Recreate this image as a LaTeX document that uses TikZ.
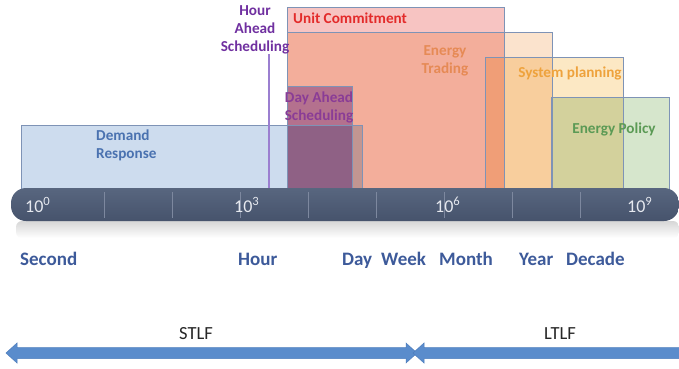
\documentclass[tikz,border=0pt]{standalone}
\usepackage{fontspec}
\setmainfont{Carlito}
\usetikzlibrary{calc}
\definecolor{drfill}{HTML}{CDDCEE}
\definecolor{ucfill}{HTML}{F7C4C2}
\definecolor{etfill}{HTML}{FBE3CD}
\definecolor{dafill}{HTML}{BDA6EB}
\definecolor{spfill}{HTML}{FCE8C4}
\definecolor{epfill}{HTML}{D6E6CC}
\definecolor{boxline}{HTML}{7E93B6}
\definecolor{hourcol}{HTML}{7030A0}
\definecolor{hourline}{HTML}{9B7FD0}
\definecolor{uccol}{HTML}{E32B2B}
\definecolor{etcol}{HTML}{E68A55}
\definecolor{dacol}{HTML}{8A3C96}
\definecolor{spcol}{HTML}{EEA23C}
\definecolor{epcol}{HTML}{5B9A55}
\definecolor{drcol}{HTML}{4A72B0}
\definecolor{unitcol}{HTML}{3D5A9A}
\definecolor{bartop}{HTML}{58667F}
\definecolor{barbot}{HTML}{46536C}
\definecolor{tickcol}{HTML}{7D889F}
\definecolor{axlcol}{HTML}{E6E9EF}
\definecolor{arrcol}{HTML}{5A8CCC}
\definecolor{arrline}{HTML}{4D7DBD}
\begin{document}
\begin{tikzpicture}[x=1pt,y=-1pt,
  boxfill/.style={fill=#1},
  boxedge/.style={draw=boxline,line width=0.9pt},
  toplab/.style={inner sep=0pt,font=\fontsize{15.2}{18}\selectfont\bfseries,align=center},
  unitlab/.style={inner sep=0pt,anchor=base west,text=unitcol,font=\fontsize{19}{22}\selectfont\bfseries},
  axl/.style={inner sep=0pt,anchor=base west,text=axlcol,font=\fontsize{18}{21}\selectfont},
  fclab/.style={inner sep=0pt,font=\fontsize{18.5}{22}\selectfont,text=black!85},
  blockarrow/.style={fill=arrcol,draw=arrline,line width=0.5pt,line join=miter}
]
\clip (0,0) rectangle (679,368);
\fill[white] (0,0) rectangle (679,368);

% coloured boxes, multiplied where they overlap
\begin{scope}[blend group=multiply]
  \fill[boxfill=drfill] (21,125) rectangle (362,189);
  \fill[boxfill=ucfill] (287,7.5) rectangle (504,189);
  \fill[boxfill=etfill] (287,32) rectangle (552,189);
  \fill[boxfill=dafill] (287,86) rectangle (352,189);
  \fill[boxfill=spfill] (485,57) rectangle (623,189);
  \fill[boxfill=epfill] (551,97) rectangle (669,189);
\end{scope}
\draw[boxedge] (21,125) rectangle (362,189);
\draw[boxedge] (287,7.5) rectangle (504,189);
\draw[boxedge] (287,32) rectangle (552,189);
\draw[boxedge] (287,86) rectangle (352,189);
\draw[boxedge] (485,57) rectangle (623,189);
\draw[boxedge] (551,97) rectangle (669,189);

% hour ahead line
\coordinate (hlTop) at (269,54);
\coordinate (hlBot) at (269,188);
\draw[hourline,line width=1.2pt] (hlTop) -- (hlBot);

% box labels
\node[toplab,text=hourcol] (hour) at (255,29.5) {Hour\\Ahead\\Scheduling};
\node[toplab,text=uccol,anchor=west] (uc) at (293,18.5) {Unit Commitment};
\node[toplab,text=etcol] (et) at (445,60.6) {Energy\\Trading};
\node[toplab,text=dacol] (da) at (319,107.5) {Day Ahead\\Scheduling};
\node[toplab,text=spcol] (sp) at (570,73.6) {System planning};
\node[toplab,text=epcol] (ep) at (614,129.6) {Energy Policy};
\node[toplab,text=drcol,align=left,anchor=west] (dr) at (96,145) {Demand\\Response};

% reflection under the bar
\shade[top color=black!16,bottom color=white,rounded corners=6pt] (16,221) rectangle (679,238);
% time axis bar
\shade[top color=bartop,bottom color=barbot,rounded corners=15pt] (11,188) rectangle (679,221);
\foreach \i in {0,...,7}{
  \draw[tickcol,line width=0.8pt] (104+68*\i,192) -- (104+68*\i,218);
}
\node[axl] (e0) at (25,212) {10\textsuperscript{0}};
\node[axl] (e3) at (234,212) {10\textsuperscript{3}};
\node[axl] (e6) at (435,212) {10\textsuperscript{6}};
\node[axl] (e9) at (627,212) {10\textsuperscript{9}};

% time unit labels
\node[unitlab] (second) at (20,265) {Second};
\node[unitlab] (hourl) at (238,265) {Hour};
\node[unitlab] (day) at (342,265) {Day};
\node[unitlab] (week) at (381,265) {Week};
\node[unitlab] (month) at (439,265) {Month};
\node[unitlab] (year) at (519,265) {Year};
\node[unitlab] (decade) at (566,265) {Decade};

% STLF / LTLF arrows
\coordinate (sL) at (6,353);
\coordinate (sR) at (417,353);
\coordinate (lL) at (413,353);
\coordinate (lR) at (692,353);
\path[blockarrow] (sL) -- ++(11,-10) -- ++(0,4.5) -- ($(sR)+(-11,-5.5)$) -- ++(0,-4.5) -- (sR)
  -- ++(-11,10) -- ++(0,-4.5) -- ($(sL)+(11,5.5)$) -- ++(0,4.5) -- cycle;
\path[blockarrow] (lL) -- ++(11,-10) -- ++(0,4.5) -- ($(lR)+(-11,-5.5)$) -- ++(0,-4.5) -- (lR)
  -- ++(-11,10) -- ++(0,-4.5) -- ($(lL)+(11,5.5)$) -- ++(0,4.5) -- cycle;
\node[fclab] (stlf) at (196,334) {STLF};
\node[fclab] (ltlf) at (560,334) {LTLF};
\end{tikzpicture}
\end{document}
